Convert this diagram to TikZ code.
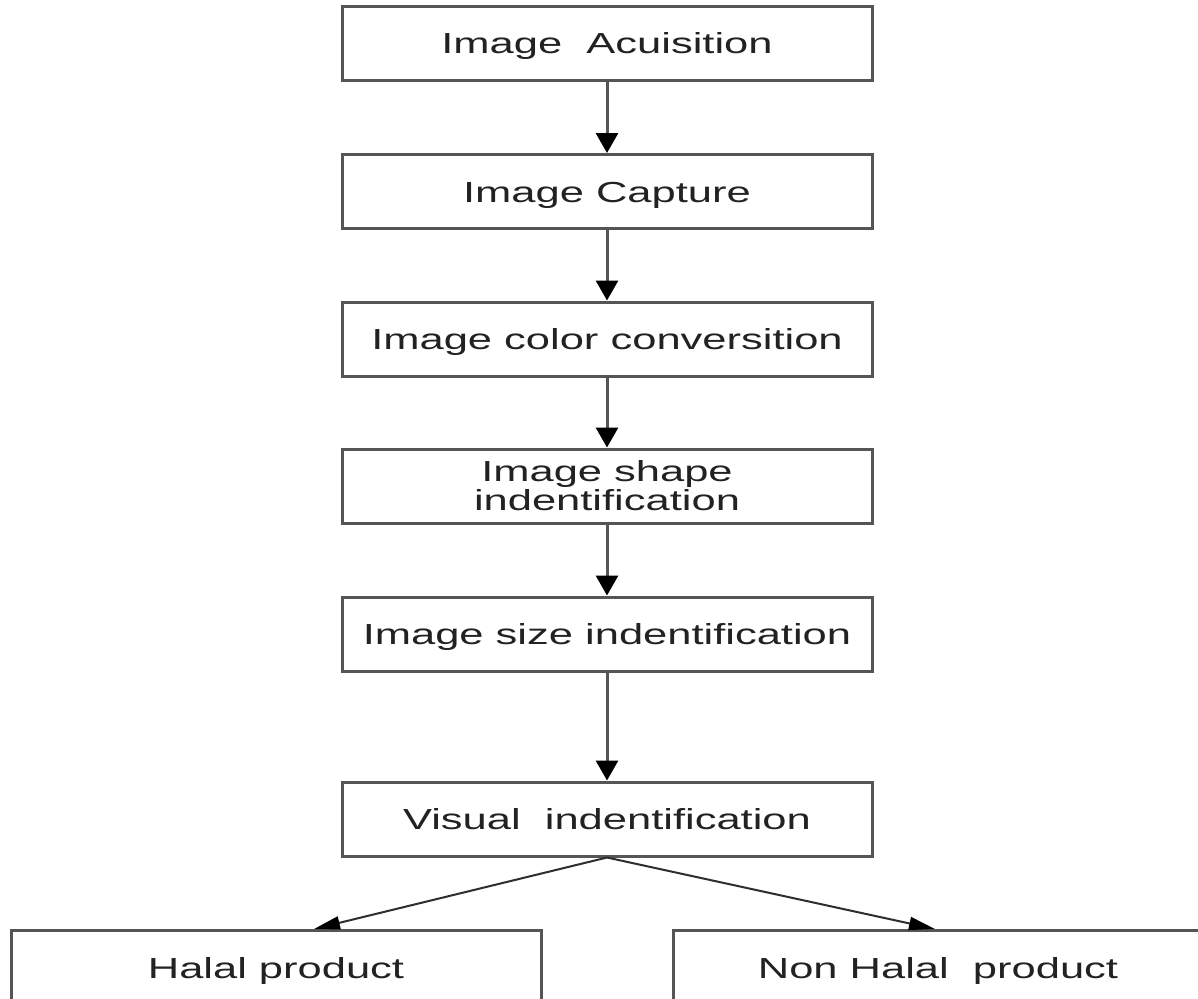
\documentclass[tikz,border=0pt]{standalone}
\usepackage{fontspec}
\setmainfont[FakeStretch=1.5]{Liberation Sans}
\usetikzlibrary{arrows.meta}

\definecolor{edge}{HTML}{555555}
\definecolor{ink}{HTML}{222222}
\definecolor{link}{HTML}{2e2e2e}

\begin{document}
\begin{tikzpicture}[x=1pt,y=-1pt,
  stage/.style={draw=edge, line width=3pt, fill=white,
    minimum width=530pt, minimum height=74pt, inner sep=0pt,
    font=\fontsize{29}{26}\selectfont, text=ink,
    text height=21pt, text depth=0pt},
  flow/.style={draw=edge, line width=3pt,
    -{Triangle[width=22pt,length=20pt,color=black]}},
  branch/.style={draw=link, line width=2pt,
    -{Triangle[width=13pt,length=26pt,color=black]}}]

  % page frame; the two result boxes run past the lower edge
  \useasboundingbox (0,0) rectangle (1198,998);
  \clip (0,0) rectangle (1198,998);
  \fill[white] (0,0) rectangle (1198,998);

  % processing stages
  \node[stage] (acq) at (607,43.5)  {Image\ \ Acuisition};
  \node[stage] (cap) at (607,191.5) {Image Capture};
  \node[stage] (col) at (607,339)   {Image color conversition};
  \node[stage, align=center, text height=48pt, text depth=0pt] (shp) at (607,486)
    {Image shape\\indentification};
  \node[stage] (siz) at (607,634)   {Image size indentification};
  \node[stage] (vis) at (607,819)   {Visual\ \ indentification};

  % outcomes
  \node[stage] (hal) at (276,967.5) {Halal product};
  \node[stage] (non) at (938,967.5) {Non Halal\ \ product};

  % sequence of stages
  \draw[flow] (acq) -- (cap);
  \draw[flow] (cap) -- (col);
  \draw[flow] (col) -- (shp);
  \draw[flow] (shp) -- (siz);
  \draw[flow] (siz) -- (vis);

  % decision
  \draw[branch] (vis.south) -- ([xshift=38pt]hal.north);
  \draw[branch] (vis.south) -- ([xshift=-3pt]non.north);
\end{tikzpicture}
\end{document}
